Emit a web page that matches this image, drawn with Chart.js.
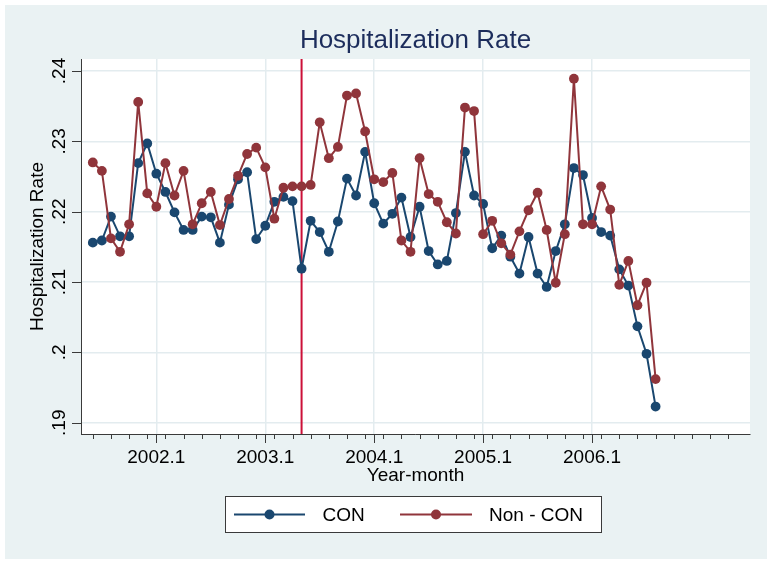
<!DOCTYPE html>
<html><head><meta charset="utf-8">
<script src="https://cdn.jsdelivr.net/npm/chart.js@4/dist/chart.umd.min.js"></script>
<style>html,body{margin:0;padding:0;background:#fff}#wrap{width:772px;height:564px;position:relative}canvas{display:block}</style>
</head><body><div id="wrap"><canvas id="c" width="772" height="564"></canvas></div>
<script>
// ---- data ----
const months = [
 '2001.6','2001.7','2001.8','2001.9','2001.10','2001.11','2001.12',
 '2002.1','2002.2','2002.3','2002.4','2002.5','2002.6','2002.7','2002.8','2002.9','2002.10','2002.11','2002.12',
 '2003.1','2003.2','2003.3','2003.4','2003.5','2003.6','2003.7','2003.8','2003.9','2003.10','2003.11','2003.12',
 '2004.1','2004.2','2004.3','2004.4','2004.5','2004.6','2004.7','2004.8','2004.9','2004.10','2004.11','2004.12',
 '2005.1','2005.2','2005.3','2005.4','2005.5','2005.6','2005.7','2005.8','2005.9','2005.10','2005.11','2005.12',
 '2006.1','2006.2','2006.3','2006.4','2006.5','2006.6','2006.7','2006.8'
];
const conRate = [
 .2156,.2159,.2193,.2165,.2165,.2269,.2297,
 .2254,.2228,.2199,.2174,.2174,.2193,.2192,.2156,.2210,.2246,.2256,.2161,
 .2180,.2214,.2221,.2215,.2119,.2187,.2171,.2143,.2186,.2247,.2223,.2285,
 .2212,.2183,.2197,.2220,.2164,.2207,.2144,.2125,.2130,.2198,.2285,.2223,
 .2211,.2148,.2166,.2136,.2112,.2164,.2112,.2093,.2144,.2182,.2262,.2252,
 .2191,.2171,.2166,.2118,.2095,.2037,.1998,.1923
];
const nonConRate = [
 .2270,.2258,.2162,.2143,.2182,.2356,.2226,
 .2207,.2269,.2223,.2258,.2182,.2212,.2228,.2181,.2218,.2251,.2282,.2291,
 .2263,.2190,.2234,.2236,.2236,.2238,.2327,.2276,.2292,.2365,.2368,.2314,
 .2246,.2242,.2255,.2159,.2143,.2276,.2225,.2214,.2185,.2169,.2348,.2343,
 .2168,.2187,.2155,.2139,.2172,.2202,.2227,.2174,.2099,.2168,.2389,.2182,
 .2182,.2236,.2203,.2096,.2130,.2067,.2099,.1962
];
const seriesNames = ['CON', 'Non - CON'];
const xTickLabels = ['2002.1','2003.1','2004.1','2005.1','2006.1'];
const yTickValues = [0.19, 0.20, 0.21, 0.22, 0.23, 0.24];
const yTickLabels = ['.19', '.2', '.21', '.22', '.23', '.24'];
const eventMonth = '2003.5';
const chartTitle = 'Hospitalization Rate';

// ---- helpers ----
const monthIndex = s => { const [y, m] = s.split('.').map(Number); return (y - 2002) * 12 + (m - 1); };
const xs = months.map(monthIndex);
const majorX = xTickLabels.map(monthIndex);
const minorX = xs.filter(v => ((v % 2) + 2) % 2 === 1).concat([57, 59, 61, 63]);

const FONT = '"Liberation Sans", Arial, sans-serif';
const BG = '#eaf2f3';
const GRID = '#e3ecef';
const AXIS = '#3a3a3a';
const C_CON = '#1a476f';
const C_NON = '#90353b';
const C_EVENT = '#cc1038';

const decor = {
  id: 'decor',
  beforeDraw(chart) {
    const {ctx, chartArea: a, width, height} = chart;
    ctx.save();
    ctx.fillStyle = '#ffffff';
    ctx.fillRect(0, 0, width, height);
    ctx.fillStyle = BG;
    ctx.fillRect(5, 5, width - 10, height - 10);
    ctx.fillStyle = '#ffffff';
    ctx.fillRect(a.left, a.top, a.right - a.left, a.bottom - a.top);
    ctx.restore();
  },
  beforeDatasetsDraw(chart) {
    const {ctx, chartArea: a, scales: {x}} = chart;
    const px = x.getPixelForValue(monthIndex(eventMonth));
    ctx.save();
    ctx.strokeStyle = C_EVENT; ctx.lineWidth = 2;
    ctx.beginPath(); ctx.moveTo(px, a.top); ctx.lineTo(px, a.bottom); ctx.stroke();
    ctx.restore();
  },
  afterDraw(chart) {
    const {ctx, chartArea: a, scales: {x, y}} = chart;
    ctx.save();
    // title centred over plot region
    ctx.fillStyle = '#1c2d5c';
    ctx.font = '26px ' + FONT;
    ctx.textAlign = 'center'; ctx.textBaseline = 'middle';
    ctx.fillText(chartTitle, (a.left + a.right) / 2, 41);
    ctx.strokeStyle = AXIS; ctx.lineWidth = 1;
    ctx.beginPath();
    majorX.forEach(v => { const p = Math.round(x.getPixelForValue(v)) + 0.5; ctx.moveTo(p, a.bottom); ctx.lineTo(p, a.bottom + 9); });
    minorX.forEach(v => { const p = Math.round(x.getPixelForValue(v)) + 0.5; ctx.moveTo(p, a.bottom); ctx.lineTo(p, a.bottom + 5); });
    yTickValues.forEach(v => { const p = Math.round(y.getPixelForValue(v)) + 0.5; ctx.moveTo(a.left - 9, p); ctx.lineTo(a.left, p); });
    ctx.stroke();
    ctx.fillStyle = '#000';
    ctx.font = '19px ' + FONT;
    ctx.textAlign = 'center'; ctx.textBaseline = 'middle';
    yTickValues.forEach((v, i) => {
      const p = y.getPixelForValue(v);
      ctx.save(); ctx.translate(60, p); ctx.rotate(-Math.PI / 2);
      ctx.fillText(yTickLabels[i], 0, 0); ctx.restore();
    });
    const L = {x: 225.5, y: 496.5, w: 376, h: 36};
    ctx.fillStyle = '#ffffff'; ctx.fillRect(L.x, L.y, L.w, L.h);
    ctx.strokeStyle = AXIS; ctx.lineWidth = 1; ctx.strokeRect(L.x, L.y, L.w, L.h);
    const cy = L.y + L.h / 2;
    const items = [{x0: 234, x1: 305, tx: 322.5}, {x0: 400, x1: 472, tx: 489}];
    chart.data.datasets.forEach((ds, i) => {
      const it = items[i];
      ctx.strokeStyle = ds.borderColor; ctx.lineWidth = 2;
      ctx.beginPath(); ctx.moveTo(it.x0, cy); ctx.lineTo(it.x1, cy); ctx.stroke();
      ctx.fillStyle = ds.backgroundColor;
      ctx.beginPath(); ctx.arc((it.x0 + it.x1) / 2, cy, 5, 0, Math.PI * 2); ctx.fill();
      ctx.fillStyle = '#000'; ctx.textAlign = 'left'; ctx.textBaseline = 'middle';
      ctx.font = '19px ' + FONT;
      ctx.fillText(ds.label, it.tx, cy + 1);
    });
    ctx.restore();
  }
};

new Chart(document.getElementById('c'), {
  type: 'line',
  data: {
    datasets: [
      {label: seriesNames[0], data: xs.map((v, i) => ({x: v, y: conRate[i]})),
       borderColor: C_CON, backgroundColor: C_CON, pointBackgroundColor: C_CON, pointBorderColor: C_CON,
       borderWidth: 2, pointRadius: 4.9, pointBorderWidth: 0, tension: 0, order: 1},
      {label: seriesNames[1], data: xs.map((v, i) => ({x: v, y: nonConRate[i]})),
       borderColor: C_NON, backgroundColor: C_NON, pointBackgroundColor: C_NON, pointBorderColor: C_NON,
       borderWidth: 2, pointRadius: 4.9, pointBorderWidth: 0, tension: 0, order: 0}
    ]
  },
  options: {
    responsive: false, animation: false, devicePixelRatio: 1,
    layout: {padding: {left: 0, right: 22, top: 59, bottom: 0}},
    plugins: {legend: {display: false}, tooltip: {enabled: false}, title: {display: false}},
    scales: {
      x: {type: 'linear', min: -8.3, max: 65.4,
          afterBuildTicks: s => { s.ticks = majorX.map(v => ({value: v})); },
          afterFit: s => { s.height = 130; },
          ticks: {autoSkip: false, maxRotation: 0, padding: 12, color: '#000',
                  font: {family: FONT, size: 19},
                  callback: v => { const i = majorX.indexOf(v); return i >= 0 ? xTickLabels[i] : ''; }},
          grid: {color: GRID, lineWidth: 1.5, drawTicks: false},
          border: {color: AXIS, width: 1},
          title: {display: true, text: 'Year-month', color: '#000', font: {family: FONT, size: 19},
                  padding: {top: 0, bottom: 76.6}}},
      y: {type: 'linear', min: 0.1884, max: 0.2417,
          afterBuildTicks: s => { s.ticks = yTickValues.map(v => ({value: v})); },
          afterFit: s => { s.width = 81; },
          ticks: {display: false},
          grid: {color: GRID, lineWidth: 1.5, drawTicks: false},
          border: {color: AXIS, width: 1},
          title: {display: true, text: 'Hospitalization Rate', color: '#000', font: {family: FONT, size: 19},
                  padding: {top: 26.6, bottom: 0}}}
    }
  },
  plugins: [decor]
});
</script></body></html>
